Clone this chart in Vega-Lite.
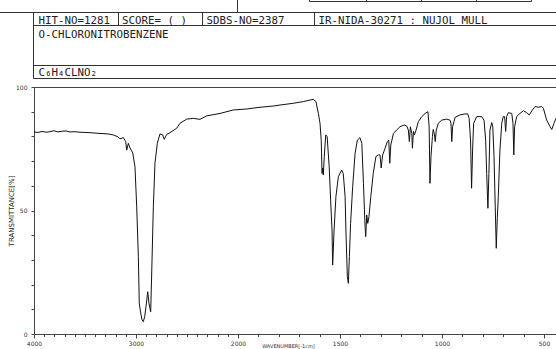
{
  "$schema": "https://vega.github.io/schema/vega-lite/v6.json",
  "width": 530,
  "height": 247,
  "autosize": "none",
  "padding": {"left": 34, "top": 87, "right": 0, "bottom": 15},
  "background": "white",
  "config": {"view": {"stroke": "#444", "strokeWidth": 1}, "font": "DejaVu Sans"},
  "datasets": {
    "spectrum": [
      {"wavenumber": 4000, "T": 81.8}, {"wavenumber": 3961, "T": 81.6}, {"wavenumber": 3922, "T": 82.0}, {"wavenumber": 3882, "T": 81.7}, {"wavenumber": 3843, "T": 81.9}, {"wavenumber": 3804, "T": 82.3}, {"wavenumber": 3765, "T": 81.8}, {"wavenumber": 3725, "T": 82.1}, {"wavenumber": 3686, "T": 82.2}, {"wavenumber": 3647, "T": 81.8}, {"wavenumber": 3608, "T": 81.9}, {"wavenumber": 3549, "T": 81.7}, {"wavenumber": 3451, "T": 81.5}, {"wavenumber": 3353, "T": 81.2}, {"wavenumber": 3275, "T": 81.0}, {"wavenumber": 3223, "T": 80.6}, {"wavenumber": 3176, "T": 79.8}, {"wavenumber": 3157, "T": 79.0}, {"wavenumber": 3124, "T": 79.5}, {"wavenumber": 3101, "T": 77.9}, {"wavenumber": 3091, "T": 74.5}, {"wavenumber": 3075, "T": 77.2}, {"wavenumber": 3059, "T": 75.3}, {"wavenumber": 3032, "T": 73.3}, {"wavenumber": 3010, "T": 67.7}, {"wavenumber": 2993, "T": 51.5}, {"wavenumber": 2977, "T": 31.3}, {"wavenumber": 2968, "T": 12.5}, {"wavenumber": 2954, "T": 8.5}, {"wavenumber": 2941, "T": 5.7}, {"wavenumber": 2928, "T": 5.0}, {"wavenumber": 2915, "T": 7.0}, {"wavenumber": 2902, "T": 11.0}, {"wavenumber": 2885, "T": 17.1}, {"wavenumber": 2873, "T": 12.5}, {"wavenumber": 2856, "T": 9.0}, {"wavenumber": 2846, "T": 24.7}, {"wavenumber": 2830, "T": 51.5}, {"wavenumber": 2814, "T": 69.2}, {"wavenumber": 2791, "T": 77.2}, {"wavenumber": 2765, "T": 81.0}, {"wavenumber": 2738, "T": 80.6}, {"wavenumber": 2723, "T": 78.8}, {"wavenumber": 2699, "T": 80.8}, {"wavenumber": 2667, "T": 81.5}, {"wavenumber": 2601, "T": 83.3}, {"wavenumber": 2569, "T": 85.3}, {"wavenumber": 2503, "T": 87.0}, {"wavenumber": 2438, "T": 87.3}, {"wavenumber": 2373, "T": 86.9}, {"wavenumber": 2307, "T": 88.3}, {"wavenumber": 2176, "T": 89.3}, {"wavenumber": 2046, "T": 90.7}, {"wavenumber": 1957, "T": 91.1}, {"wavenumber": 1892, "T": 91.8}, {"wavenumber": 1827, "T": 92.3}, {"wavenumber": 1794, "T": 92.7}, {"wavenumber": 1729, "T": 93.4}, {"wavenumber": 1680, "T": 94.1}, {"wavenumber": 1631, "T": 95.0}, {"wavenumber": 1618, "T": 94.1}, {"wavenumber": 1606, "T": 89.3}, {"wavenumber": 1598, "T": 85.3}, {"wavenumber": 1592, "T": 78.5}, {"wavenumber": 1588, "T": 65.0}, {"wavenumber": 1585, "T": 67.2}, {"wavenumber": 1582, "T": 64.4}, {"wavenumber": 1577, "T": 71.8}, {"wavenumber": 1570, "T": 80.6}, {"wavenumber": 1563, "T": 79.9}, {"wavenumber": 1553, "T": 67.7}, {"wavenumber": 1546, "T": 54.3}, {"wavenumber": 1539, "T": 42.1}, {"wavenumber": 1536, "T": 27.9}, {"wavenumber": 1529, "T": 42.1}, {"wavenumber": 1520, "T": 55.6}, {"wavenumber": 1508, "T": 63.7}, {"wavenumber": 1492, "T": 66.4}, {"wavenumber": 1484, "T": 65.0}, {"wavenumber": 1475, "T": 55.6}, {"wavenumber": 1471, "T": 42.1}, {"wavenumber": 1464, "T": 23.2}, {"wavenumber": 1459, "T": 20.5}, {"wavenumber": 1454, "T": 31.3}, {"wavenumber": 1448, "T": 44.8}, {"wavenumber": 1438, "T": 59.6}, {"wavenumber": 1426, "T": 73.2}, {"wavenumber": 1415, "T": 78.5}, {"wavenumber": 1402, "T": 79.5}, {"wavenumber": 1393, "T": 77.2}, {"wavenumber": 1385, "T": 61.0}, {"wavenumber": 1377, "T": 43.4}, {"wavenumber": 1374, "T": 39.4}, {"wavenumber": 1369, "T": 48.2}, {"wavenumber": 1364, "T": 44.8}, {"wavenumber": 1358, "T": 47.5}, {"wavenumber": 1349, "T": 55.6}, {"wavenumber": 1337, "T": 65.0}, {"wavenumber": 1324, "T": 71.8}, {"wavenumber": 1312, "T": 72.5}, {"wavenumber": 1304, "T": 72.5}, {"wavenumber": 1298, "T": 67.2}, {"wavenumber": 1291, "T": 72.5}, {"wavenumber": 1279, "T": 75.2}, {"wavenumber": 1268, "T": 77.9}, {"wavenumber": 1261, "T": 78.5}, {"wavenumber": 1256, "T": 69.1}, {"wavenumber": 1251, "T": 76.5}, {"wavenumber": 1238, "T": 81.2}, {"wavenumber": 1222, "T": 82.6}, {"wavenumber": 1206, "T": 83.9}, {"wavenumber": 1186, "T": 84.6}, {"wavenumber": 1173, "T": 84.2}, {"wavenumber": 1165, "T": 82.6}, {"wavenumber": 1160, "T": 77.9}, {"wavenumber": 1155, "T": 83.9}, {"wavenumber": 1148, "T": 81.2}, {"wavenumber": 1145, "T": 75.2}, {"wavenumber": 1140, "T": 82.0}, {"wavenumber": 1135, "T": 80.6}, {"wavenumber": 1127, "T": 82.6}, {"wavenumber": 1116, "T": 86.0}, {"wavenumber": 1099, "T": 88.0}, {"wavenumber": 1083, "T": 89.3}, {"wavenumber": 1069, "T": 90.0}, {"wavenumber": 1063, "T": 83.9}, {"wavenumber": 1059, "T": 61.0}, {"wavenumber": 1054, "T": 71.8}, {"wavenumber": 1047, "T": 79.9}, {"wavenumber": 1043, "T": 82.8}, {"wavenumber": 1038, "T": 81.2}, {"wavenumber": 1033, "T": 77.9}, {"wavenumber": 1028, "T": 82.6}, {"wavenumber": 1018, "T": 85.3}, {"wavenumber": 1001, "T": 86.6}, {"wavenumber": 977, "T": 87.0}, {"wavenumber": 961, "T": 86.6}, {"wavenumber": 956, "T": 85.3}, {"wavenumber": 952, "T": 77.9}, {"wavenumber": 948, "T": 83.9}, {"wavenumber": 936, "T": 87.7}, {"wavenumber": 912, "T": 88.7}, {"wavenumber": 887, "T": 89.1}, {"wavenumber": 874, "T": 89.1}, {"wavenumber": 867, "T": 87.3}, {"wavenumber": 860, "T": 78.5}, {"wavenumber": 855, "T": 59.0}, {"wavenumber": 850, "T": 74.5}, {"wavenumber": 845, "T": 85.3}, {"wavenumber": 830, "T": 88.0}, {"wavenumber": 805, "T": 88.0}, {"wavenumber": 794, "T": 86.6}, {"wavenumber": 786, "T": 78.5}, {"wavenumber": 781, "T": 65.0}, {"wavenumber": 775, "T": 50.9}, {"wavenumber": 770, "T": 65.0}, {"wavenumber": 765, "T": 82.6}, {"wavenumber": 756, "T": 85.6}, {"wavenumber": 751, "T": 83.9}, {"wavenumber": 745, "T": 71.8}, {"wavenumber": 739, "T": 51.5}, {"wavenumber": 734, "T": 34.7}, {"wavenumber": 729, "T": 46.8}, {"wavenumber": 724, "T": 55.6}, {"wavenumber": 716, "T": 74.5}, {"wavenumber": 707, "T": 85.3}, {"wavenumber": 700, "T": 88.0}, {"wavenumber": 693, "T": 88.0}, {"wavenumber": 688, "T": 82.0}, {"wavenumber": 683, "T": 88.0}, {"wavenumber": 675, "T": 89.6}, {"wavenumber": 658, "T": 89.3}, {"wavenumber": 652, "T": 85.3}, {"wavenumber": 648, "T": 72.5}, {"wavenumber": 644, "T": 83.9}, {"wavenumber": 634, "T": 88.0}, {"wavenumber": 618, "T": 89.3}, {"wavenumber": 601, "T": 90.4}, {"wavenumber": 585, "T": 89.6}, {"wavenumber": 572, "T": 88.7}, {"wavenumber": 560, "T": 90.3}, {"wavenumber": 544, "T": 92.1}, {"wavenumber": 528, "T": 91.8}, {"wavenumber": 511, "T": 92.1}, {"wavenumber": 503, "T": 91.4}, {"wavenumber": 487, "T": 86.6}, {"wavenumber": 470, "T": 83.9}, {"wavenumber": 462, "T": 82.8}, {"wavenumber": 451, "T": 85.3}, {"wavenumber": 441, "T": 87.3}, {"wavenumber": 430, "T": 89.0}
    ],
    "rules": [
      {"x": 0, "x2": 560, "y": 12.5, "y2": 12.5},
      {"x": 237.5, "x2": 237.5, "y": -5, "y2": 12.5},
      {"x": 33.5, "x2": 33.5, "y": 12.5, "y2": 78.5},
      {"x": 33.5, "x2": 560, "y": 25.5, "y2": 25.5},
      {"x": 33.5, "x2": 560, "y": 65.5, "y2": 65.5},
      {"x": 33.5, "x2": 560, "y": 78.5, "y2": 78.5},
      {"x": 118.5, "x2": 118.5, "y": 12.5, "y2": 25.5},
      {"x": 202.5, "x2": 202.5, "y": 12.5, "y2": 25.5},
      {"x": 314.5, "x2": 314.5, "y": 12.5, "y2": 25.5},
      {"x": 309.5, "x2": 531.5, "y": 1.5, "y2": 1.5},
      {"x": 309.5, "x2": 309.5, "y": -5, "y2": 1.5},
      {"x": 366.5, "x2": 366.5, "y": -5, "y2": 1.5},
      {"x": 421.5, "x2": 421.5, "y": -5, "y2": 1.5},
      {"x": 476.5, "x2": 476.5, "y": -5, "y2": 1.5},
      {"x": 531.5, "x2": 531.5, "y": -5, "y2": 1.5}
    ],
    "texts": [
      {"label": "HIT-NO=1281", "x": 38.5, "y": 24},
      {"label": "SCORE=   (  )", "x": 122, "y": 24},
      {"label": "SDBS-NO=2387", "x": 206.5, "y": 24},
      {"label": "IR-NIDA-30271 : NUJOL MULL", "x": 318.5, "y": 24},
      {"label": "O-CHLORONITROBENZENE", "x": 38.5, "y": 38},
      {"label": "C₆H₄CLNO₂", "x": 38.5, "y": 76}
    ]
  },
  "layer": [
    {
      "data": {"name": "spectrum"},
      "mark": {"type": "line", "color": "#111", "strokeWidth": 1},
      "encoding": {
        "x": {
          "field": "wavenumber",
          "type": "quantitative",
          "scale": {"domain": [4000, 2000, 400], "range": [0, 204, 530.4], "nice": false, "zero": false},
          "axis": {
            "values": [4000, 3900, 3800, 3700, 3600, 3500, 3400, 3300, 3200, 3100, 3000, 2900, 2800, 2700, 2600, 2500, 2400, 2300, 2200, 2100, 2000, 1900, 1800, 1700, 1600, 1500, 1400, 1300, 1200, 1100, 1000, 900, 800, 700, 600, 500],
            "format": "d",
            "labelExpr": "indexof([4000,3000,2000,1500,1000,500], datum.value) >= 0 ? datum.label : ''",
            "tickSize": {"condition": {"test": "indexof([4000,3000,2000,1500,1000,500], datum.value) >= 0", "value": 4}, "value": 2.5},
            "labelFontSize": 6,
            "labelColor": "#333",
            "labelPadding": 2,
            "labelFlush": false,
            "labelOverlap": false,
            "tickColor": "#444",
            "domainColor": "#444",
            "grid": false,
            "title": "WAVENUMBER[-1cm]",
            "titleFontSize": 5,
            "titleFontWeight": "normal",
            "titleColor": "#333",
            "titleX": 254,
            "titleY": 11.5,
            "titleBaseline": "middle"
          }
        },
        "y": {
          "field": "T",
          "type": "quantitative",
          "scale": {"domain": [0, 100], "nice": false},
          "axis": {
            "values": [0, 10, 20, 30, 40, 50, 60, 70, 80, 90, 100],
            "labelExpr": "datum.value % 50 == 0 ? datum.label : ''",
            "tickSize": 3,
            "labelFontSize": 6,
            "labelColor": "#333",
            "labelPadding": 4,
            "tickColor": "#444",
            "domainColor": "#444",
            "grid": false,
            "title": "TRANSMITTANCE[%]",
            "titleFontSize": 7,
            "titleFontWeight": "normal",
            "titleColor": "#222",
            "titlePadding": 1
          }
        }
      }
    },
    {
      "data": {"name": "rules"},
      "mark": {"type": "rule", "color": "#333", "strokeWidth": 1},
      "encoding": {
        "x": {"field": "x", "type": "quantitative", "scale": {"domain": [0, 556], "range": [-34, 522], "nice": false, "zero": false}, "axis": null},
        "x2": {"field": "x2"},
        "y": {"field": "y", "type": "quantitative", "scale": {"domain": [0, 87], "range": [-87, 0], "nice": false, "zero": false}, "axis": null},
        "y2": {"field": "y2"}
      }
    },
    {
      "data": {"name": "texts"},
      "mark": {"type": "text", "font": "DejaVu Sans Mono", "fontSize": 10.8, "align": "left", "baseline": "alphabetic", "color": "#222"},
      "encoding": {
        "x": {"field": "x", "type": "quantitative", "scale": {"domain": [0, 556], "range": [-34, 522], "nice": false, "zero": false}, "axis": null},
        "y": {"field": "y", "type": "quantitative", "scale": {"domain": [0, 87], "range": [-87, 0], "nice": false, "zero": false}, "axis": null},
        "text": {"field": "label"}
      }
    }
  ],
  "resolve": {"scale": {"x": "independent", "y": "independent"}}
}
